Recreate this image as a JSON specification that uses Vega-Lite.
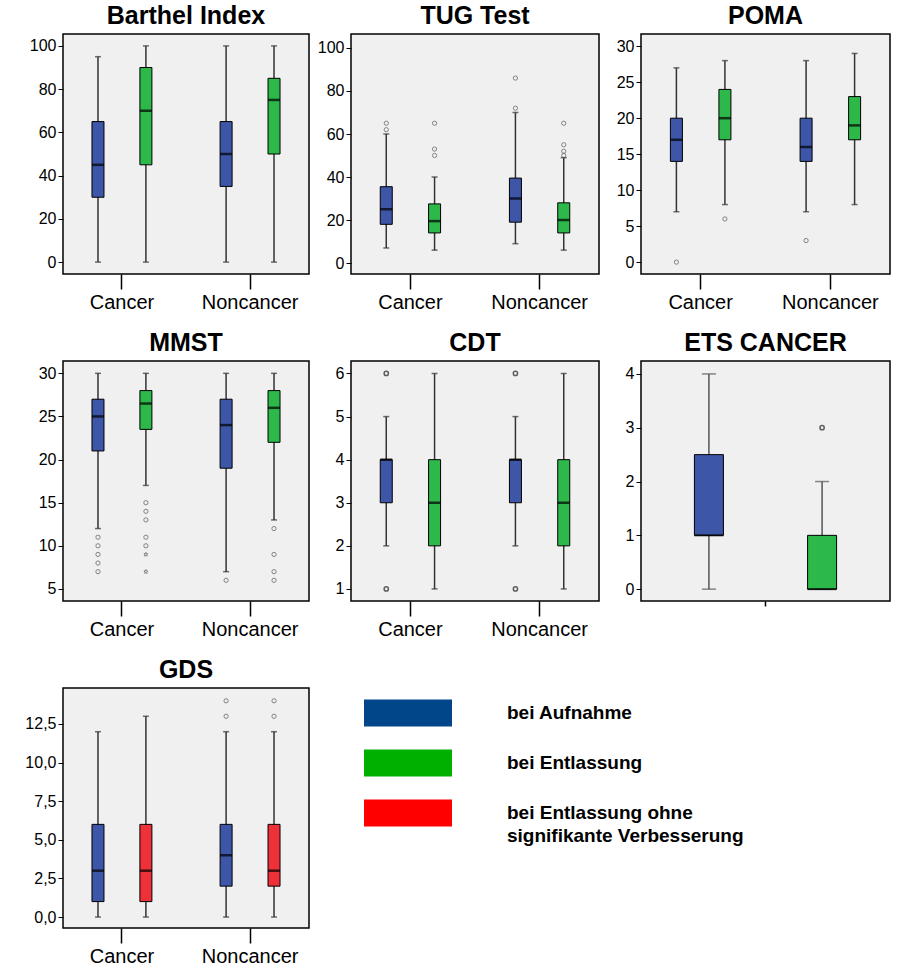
{
"$schema": "https://vega.github.io/schema/vega-lite/v6.json",
"padding": {"left": 24, "top": 3, "right": 4, "bottom": 2},
"background": "#ffffff",
"config": {
  "font": "Liberation Sans",
  "view": {"fill": "#f0f0f0", "stroke": "#000000", "strokeWidth": 1.5},
  "title": {"fontSize": 25, "fontWeight": "bold", "offset": 5, "color": "#000000", "anchor": "middle", "font": "Liberation Sans"},
  "axis": {"labelColor": "#000000", "tickColor": "#000000", "domain": false, "grid": false, "labelFont": "Liberation Sans"},
  "axisX": {"tickSize": 15, "labelFontSize": 20, "labelPadding": 3, "labelAngle": 0, "tickWidth": 1.5},
  "axisY": {"tickSize": 5, "labelFontSize": 16, "labelPadding": 2, "tickWidth": 1}
},
"datasets": {
  "box": [
    {"test":"Barthel","group":"Cancer","phase":"Aufnahme","lo":0,"q1":30,"med":45,"q3":65,"hi":95},
    {"test":"Barthel","group":"Cancer","phase":"Entlassung","lo":0,"q1":45,"med":70,"q3":90,"hi":100},
    {"test":"Barthel","group":"Noncancer","phase":"Aufnahme","lo":0,"q1":35,"med":50,"q3":65,"hi":100},
    {"test":"Barthel","group":"Noncancer","phase":"Entlassung","lo":0,"q1":50,"med":75,"q3":85,"hi":100},
    {"test":"TUG","group":"Cancer","phase":"Aufnahme","lo":7,"q1":18,"med":25,"q3":35.5,"hi":60},
    {"test":"TUG","group":"Cancer","phase":"Entlassung","lo":6,"q1":14,"med":19.5,"q3":27.5,"hi":40},
    {"test":"TUG","group":"Noncancer","phase":"Aufnahme","lo":9,"q1":19,"med":30,"q3":39.5,"hi":70},
    {"test":"TUG","group":"Noncancer","phase":"Entlassung","lo":6,"q1":14,"med":20,"q3":28,"hi":49},
    {"test":"POMA","group":"Cancer","phase":"Aufnahme","lo":7,"q1":14,"med":17,"q3":20,"hi":27},
    {"test":"POMA","group":"Cancer","phase":"Entlassung","lo":8,"q1":17,"med":20,"q3":24,"hi":28},
    {"test":"POMA","group":"Noncancer","phase":"Aufnahme","lo":7,"q1":14,"med":16,"q3":20,"hi":28},
    {"test":"POMA","group":"Noncancer","phase":"Entlassung","lo":8,"q1":17,"med":19,"q3":23,"hi":29},
    {"test":"MMST","group":"Cancer","phase":"Aufnahme","lo":12,"q1":21,"med":25,"q3":27,"hi":30},
    {"test":"MMST","group":"Cancer","phase":"Entlassung","lo":17,"q1":23.5,"med":26.5,"q3":28,"hi":30},
    {"test":"MMST","group":"Noncancer","phase":"Aufnahme","lo":7,"q1":19,"med":24,"q3":27,"hi":30},
    {"test":"MMST","group":"Noncancer","phase":"Entlassung","lo":13,"q1":22,"med":26,"q3":28,"hi":30},
    {"test":"CDT","group":"Cancer","phase":"Aufnahme","lo":2,"q1":3,"med":4,"q3":4,"hi":5},
    {"test":"CDT","group":"Cancer","phase":"Entlassung","lo":1,"q1":2,"med":3,"q3":4,"hi":6},
    {"test":"CDT","group":"Noncancer","phase":"Aufnahme","lo":2,"q1":3,"med":4,"q3":4,"hi":5},
    {"test":"CDT","group":"Noncancer","phase":"Entlassung","lo":1,"q1":2,"med":3,"q3":4,"hi":6},
    {"test":"ETS","group":"Cancer","phase":"Aufnahme","lo":0,"q1":1,"med":1,"q3":2.5,"hi":4},
    {"test":"ETS","group":"Cancer","phase":"Entlassung","lo":0,"q1":0,"med":0,"q3":1,"hi":2},
    {"test":"GDS","group":"Cancer","phase":"Aufnahme","lo":0,"q1":1,"med":3,"q3":6,"hi":12},
    {"test":"GDS","group":"Cancer","phase":"ohne Verbesserung","lo":0,"q1":1,"med":3,"q3":6,"hi":13},
    {"test":"GDS","group":"Noncancer","phase":"Aufnahme","lo":0,"q1":2,"med":4,"q3":6,"hi":12},
    {"test":"GDS","group":"Noncancer","phase":"ohne Verbesserung","lo":0,"q1":2,"med":3,"q3":6,"hi":12}
  ],
  "out": [
    {"test":"TUG","group":"Cancer","phase":"Aufnahme","value":65,"kind":"mild"},
    {"test":"TUG","group":"Cancer","phase":"Aufnahme","value":62,"kind":"mild"},
    {"test":"TUG","group":"Cancer","phase":"Entlassung","value":65,"kind":"mild"},
    {"test":"TUG","group":"Cancer","phase":"Entlassung","value":53,"kind":"mild"},
    {"test":"TUG","group":"Cancer","phase":"Entlassung","value":50,"kind":"mild"},
    {"test":"TUG","group":"Noncancer","phase":"Aufnahme","value":86,"kind":"mild"},
    {"test":"TUG","group":"Noncancer","phase":"Aufnahme","value":72,"kind":"mild"},
    {"test":"TUG","group":"Noncancer","phase":"Entlassung","value":65,"kind":"mild"},
    {"test":"TUG","group":"Noncancer","phase":"Entlassung","value":55,"kind":"mild"},
    {"test":"TUG","group":"Noncancer","phase":"Entlassung","value":52,"kind":"mild"},
    {"test":"TUG","group":"Noncancer","phase":"Entlassung","value":50,"kind":"mild"},
    {"test":"POMA","group":"Cancer","phase":"Aufnahme","value":0,"kind":"mild"},
    {"test":"POMA","group":"Cancer","phase":"Entlassung","value":6,"kind":"mild"},
    {"test":"POMA","group":"Noncancer","phase":"Aufnahme","value":3,"kind":"mild"},
    {"test":"MMST","group":"Cancer","phase":"Aufnahme","value":11,"kind":"mild"},
    {"test":"MMST","group":"Cancer","phase":"Aufnahme","value":10,"kind":"mild"},
    {"test":"MMST","group":"Cancer","phase":"Aufnahme","value":9,"kind":"mild"},
    {"test":"MMST","group":"Cancer","phase":"Aufnahme","value":8,"kind":"mild"},
    {"test":"MMST","group":"Cancer","phase":"Aufnahme","value":7,"kind":"mild"},
    {"test":"MMST","group":"Cancer","phase":"Entlassung","value":15,"kind":"mild"},
    {"test":"MMST","group":"Cancer","phase":"Entlassung","value":14,"kind":"mild"},
    {"test":"MMST","group":"Cancer","phase":"Entlassung","value":13,"kind":"mild"},
    {"test":"MMST","group":"Cancer","phase":"Entlassung","value":11,"kind":"mild"},
    {"test":"MMST","group":"Cancer","phase":"Entlassung","value":10,"kind":"mild"},
    {"test":"MMST","group":"Cancer","phase":"Entlassung","value":9,"kind":"extreme"},
    {"test":"MMST","group":"Cancer","phase":"Entlassung","value":7,"kind":"extreme"},
    {"test":"MMST","group":"Noncancer","phase":"Aufnahme","value":6,"kind":"mild"},
    {"test":"MMST","group":"Noncancer","phase":"Entlassung","value":12,"kind":"mild"},
    {"test":"MMST","group":"Noncancer","phase":"Entlassung","value":9,"kind":"mild"},
    {"test":"MMST","group":"Noncancer","phase":"Entlassung","value":7,"kind":"mild"},
    {"test":"MMST","group":"Noncancer","phase":"Entlassung","value":6,"kind":"mild"},
    {"test":"CDT","group":"Cancer","phase":"Aufnahme","value":6,"kind":"mild"},
    {"test":"CDT","group":"Cancer","phase":"Aufnahme","value":1,"kind":"mild"},
    {"test":"CDT","group":"Noncancer","phase":"Aufnahme","value":6,"kind":"mild"},
    {"test":"CDT","group":"Noncancer","phase":"Aufnahme","value":1,"kind":"mild"},
    {"test":"ETS","group":"Cancer","phase":"Entlassung","value":3,"kind":"mild"},
    {"test":"GDS","group":"Noncancer","phase":"Aufnahme","value":14,"kind":"mild"},
    {"test":"GDS","group":"Noncancer","phase":"Aufnahme","value":13,"kind":"mild"},
    {"test":"GDS","group":"Noncancer","phase":"ohne Verbesserung","value":14,"kind":"mild"},
    {"test":"GDS","group":"Noncancer","phase":"ohne Verbesserung","value":13,"kind":"mild"}
  ],
  "legend": [
    {"item":"a","phase":"Aufnahme","label":"bei Aufnahme"},
    {"item":"b","phase":"Entlassung","label":"bei Entlassung"},
    {"item":"c","phase":"ohne Verbesserung","label":"bei Entlassung ohne\nsignifikante Verbesserung"}
  ]
},
"columns": 3,
"bounds": "flush",
"spacing": {"row": 87, "column": 42},
"resolve": {"scale": {"x": "independent", "y": "independent", "xOffset": "independent"}},
"concat": [
{
 "title": "Barthel Index", "width": 246, "height": 240,
 "encoding": {
   "x": {"field":"group","type":"nominal","title":null,"scale":{"domain":["Cancer","Noncancer"],"paddingInner":0.08,"paddingOuter":0}},
   "xOffset": {"field":"phase","type":"nominal","scale":{"domain":["Aufnahme","Entlassung"],"paddingInner":0,"paddingOuter":0.23}}
 },
 "layer": [
  {"data":{"name":"box"},"transform":[{"filter":"datum.test === 'Barthel'"}],"mark":{"type":"rule","color":"#333333","strokeWidth":1.5},
   "encoding":{"y":{"field":"lo","type":"quantitative","title":null,"scale":{"domain":[-5.5,105.5],"nice":false,"zero":false},"axis":{"values":[0,20,40,60,80,100]}},"y2":{"field":"hi"}}},
  {"data":{"name":"box"},"transform":[{"filter":"datum.test === 'Barthel'"}],"mark":{"type":"tick","size":6,"thickness":1.5,"color":"#333333"},"encoding":{"y":{"field":"lo","type":"quantitative","title":null,"axis":{"values":[0,20,40,60,80,100]}}}},
  {"data":{"name":"box"},"transform":[{"filter":"datum.test === 'Barthel'"}],"mark":{"type":"tick","size":6,"thickness":1.5,"color":"#333333"},"encoding":{"y":{"field":"hi","type":"quantitative","title":null,"axis":{"values":[0,20,40,60,80,100]}}}},
  {"data":{"name":"box"},"transform":[{"filter":"datum.test === 'Barthel'"}],"mark":{"type":"bar","width":12,"stroke":"#000000","strokeWidth":1},
   "encoding":{"y":{"field":"q1","type":"quantitative","title":null,"axis":{"values":[0,20,40,60,80,100]}},"y2":{"field":"q3"},"color":{"field":"phase","type":"nominal","scale":{"domain":["Aufnahme","Entlassung","ohne Verbesserung"],"range":["#3e56a8","#2db84a","#ee3139"]},"legend":null}}},
  {"data":{"name":"box"},"transform":[{"filter":"datum.test === 'Barthel'"}],"mark":{"type":"tick","size":12,"thickness":2.5,"color":"#000000"},"encoding":{"y":{"field":"med","type":"quantitative","title":null,"axis":{"values":[0,20,40,60,80,100]}}}}
 ]
},
{
 "title": "TUG Test", "width": 248, "height": 240,
 "encoding": {
   "x": {"field":"group","type":"nominal","title":null,"scale":{"domain":["Cancer","Noncancer"],"paddingInner":0.08,"paddingOuter":0}},
   "xOffset": {"field":"phase","type":"nominal","scale":{"domain":["Aufnahme","Entlassung"],"paddingInner":0,"paddingOuter":0.23}}
 },
 "layer": [
  {"data":{"name":"box"},"transform":[{"filter":"datum.test === 'TUG'"}],"mark":{"type":"rule","color":"#333333","strokeWidth":1.5},
   "encoding":{"y":{"field":"lo","type":"quantitative","title":null,"scale":{"domain":[-5.1,106.5],"nice":false,"zero":false},"axis":{"values":[0,20,40,60,80,100]}},"y2":{"field":"hi"}}},
  {"data":{"name":"box"},"transform":[{"filter":"datum.test === 'TUG'"}],"mark":{"type":"tick","size":6,"thickness":1.5,"color":"#333333"},"encoding":{"y":{"field":"lo","type":"quantitative","title":null,"axis":{"values":[0,20,40,60,80,100]}}}},
  {"data":{"name":"box"},"transform":[{"filter":"datum.test === 'TUG'"}],"mark":{"type":"tick","size":6,"thickness":1.5,"color":"#333333"},"encoding":{"y":{"field":"hi","type":"quantitative","title":null,"axis":{"values":[0,20,40,60,80,100]}}}},
  {"data":{"name":"box"},"transform":[{"filter":"datum.test === 'TUG'"}],"mark":{"type":"bar","width":12,"stroke":"#000000","strokeWidth":1},
   "encoding":{"y":{"field":"q1","type":"quantitative","title":null,"axis":{"values":[0,20,40,60,80,100]}},"y2":{"field":"q3"},"color":{"field":"phase","type":"nominal","scale":{"domain":["Aufnahme","Entlassung","ohne Verbesserung"],"range":["#3e56a8","#2db84a","#ee3139"]},"legend":null}}},
  {"data":{"name":"box"},"transform":[{"filter":"datum.test === 'TUG'"}],"mark":{"type":"tick","size":12,"thickness":2.5,"color":"#000000"},"encoding":{"y":{"field":"med","type":"quantitative","title":null,"axis":{"values":[0,20,40,60,80,100]}}}},
  {"data":{"name":"out"},"transform":[{"filter":"datum.test === 'TUG'"}],"mark":{"type":"point","filled":false,"size":18,"strokeWidth":1,"color":"#555555"},"encoding":{"y":{"field":"value","type":"quantitative","title":null,"axis":{"values":[0,20,40,60,80,100]}}}}
 ]
},
{
 "title": "POMA", "width": 249, "height": 240,
 "encoding": {
   "x": {"field":"group","type":"nominal","title":null,"scale":{"domain":["Cancer","Noncancer"],"paddingInner":0.08,"paddingOuter":0}},
   "xOffset": {"field":"phase","type":"nominal","scale":{"domain":["Aufnahme","Entlassung"],"paddingInner":0,"paddingOuter":0.23}}
 },
 "layer": [
  {"data":{"name":"box"},"transform":[{"filter":"datum.test === 'POMA'"}],"mark":{"type":"rule","color":"#333333","strokeWidth":1.5},
   "encoding":{"y":{"field":"lo","type":"quantitative","title":null,"scale":{"domain":[-1.65,31.7],"nice":false,"zero":false},"axis":{"values":[0,5,10,15,20,25,30]}},"y2":{"field":"hi"}}},
  {"data":{"name":"box"},"transform":[{"filter":"datum.test === 'POMA'"}],"mark":{"type":"tick","size":6,"thickness":1.5,"color":"#333333"},"encoding":{"y":{"field":"lo","type":"quantitative","title":null,"axis":{"values":[0,5,10,15,20,25,30]}}}},
  {"data":{"name":"box"},"transform":[{"filter":"datum.test === 'POMA'"}],"mark":{"type":"tick","size":6,"thickness":1.5,"color":"#333333"},"encoding":{"y":{"field":"hi","type":"quantitative","title":null,"axis":{"values":[0,5,10,15,20,25,30]}}}},
  {"data":{"name":"box"},"transform":[{"filter":"datum.test === 'POMA'"}],"mark":{"type":"bar","width":12,"stroke":"#000000","strokeWidth":1},
   "encoding":{"y":{"field":"q1","type":"quantitative","title":null,"axis":{"values":[0,5,10,15,20,25,30]}},"y2":{"field":"q3"},"color":{"field":"phase","type":"nominal","scale":{"domain":["Aufnahme","Entlassung","ohne Verbesserung"],"range":["#3e56a8","#2db84a","#ee3139"]},"legend":null}}},
  {"data":{"name":"box"},"transform":[{"filter":"datum.test === 'POMA'"}],"mark":{"type":"tick","size":12,"thickness":2.5,"color":"#000000"},"encoding":{"y":{"field":"med","type":"quantitative","title":null,"axis":{"values":[0,5,10,15,20,25,30]}}}},
  {"data":{"name":"out"},"transform":[{"filter":"datum.test === 'POMA'"}],"mark":{"type":"point","filled":false,"size":18,"strokeWidth":1,"color":"#555555"},"encoding":{"y":{"field":"value","type":"quantitative","title":null,"axis":{"values":[0,5,10,15,20,25,30]}}}}
 ]
},
{
 "title": "MMST", "width": 246, "height": 240,
 "encoding": {
   "x": {"field":"group","type":"nominal","title":null,"scale":{"domain":["Cancer","Noncancer"],"paddingInner":0.08,"paddingOuter":0}},
   "xOffset": {"field":"phase","type":"nominal","scale":{"domain":["Aufnahme","Entlassung"],"paddingInner":0,"paddingOuter":0.23}}
 },
 "layer": [
  {"data":{"name":"box"},"transform":[{"filter":"datum.test === 'MMST'"}],"mark":{"type":"rule","color":"#333333","strokeWidth":1.5},
   "encoding":{"y":{"field":"lo","type":"quantitative","title":null,"scale":{"domain":[3.6,31.43],"nice":false,"zero":false},"axis":{"values":[5,10,15,20,25,30]}},"y2":{"field":"hi"}}},
  {"data":{"name":"box"},"transform":[{"filter":"datum.test === 'MMST'"}],"mark":{"type":"tick","size":6,"thickness":1.5,"color":"#333333"},"encoding":{"y":{"field":"lo","type":"quantitative","title":null,"axis":{"values":[5,10,15,20,25,30]}}}},
  {"data":{"name":"box"},"transform":[{"filter":"datum.test === 'MMST'"}],"mark":{"type":"tick","size":6,"thickness":1.5,"color":"#333333"},"encoding":{"y":{"field":"hi","type":"quantitative","title":null,"axis":{"values":[5,10,15,20,25,30]}}}},
  {"data":{"name":"box"},"transform":[{"filter":"datum.test === 'MMST'"}],"mark":{"type":"bar","width":12,"stroke":"#000000","strokeWidth":1},
   "encoding":{"y":{"field":"q1","type":"quantitative","title":null,"axis":{"values":[5,10,15,20,25,30]}},"y2":{"field":"q3"},"color":{"field":"phase","type":"nominal","scale":{"domain":["Aufnahme","Entlassung","ohne Verbesserung"],"range":["#3e56a8","#2db84a","#ee3139"]},"legend":null}}},
  {"data":{"name":"box"},"transform":[{"filter":"datum.test === 'MMST'"}],"mark":{"type":"tick","size":12,"thickness":2.5,"color":"#000000"},"encoding":{"y":{"field":"med","type":"quantitative","title":null,"axis":{"values":[5,10,15,20,25,30]}}}},
  {"data":{"name":"out"},"transform":[{"filter":"datum.test === 'MMST'"}],"mark":{"type":"point","filled":false,"size":18,"strokeWidth":1,"color":"#555555"},
   "encoding":{"y":{"field":"value","type":"quantitative","title":null,"axis":{"values":[5,10,15,20,25,30]}},"shape":{"field":"kind","type":"nominal","legend":null,"scale":{"domain":["mild","extreme"],"range":["circle","M0,-1L0.25,-0.35L0.95,-0.31L0.4,0.13L0.59,0.81L0,0.42L-0.59,0.81L-0.4,0.13L-0.95,-0.31L-0.25,-0.35Z"]}}}}
 ]
},
{
 "title": "CDT", "width": 248, "height": 240,
 "encoding": {
   "x": {"field":"group","type":"nominal","title":null,"scale":{"domain":["Cancer","Noncancer"],"paddingInner":0.08,"paddingOuter":0}},
   "xOffset": {"field":"phase","type":"nominal","scale":{"domain":["Aufnahme","Entlassung"],"paddingInner":0,"paddingOuter":0.23}}
 },
 "layer": [
  {"data":{"name":"box"},"transform":[{"filter":"datum.test === 'CDT'"}],"mark":{"type":"rule","color":"#333333","strokeWidth":1.5},
   "encoding":{"y":{"field":"lo","type":"quantitative","title":null,"scale":{"domain":[0.72,6.29],"nice":false,"zero":false},"axis":{"values":[1,2,3,4,5,6]}},"y2":{"field":"hi"}}},
  {"data":{"name":"box"},"transform":[{"filter":"datum.test === 'CDT'"}],"mark":{"type":"tick","size":6,"thickness":1.5,"color":"#333333"},"encoding":{"y":{"field":"lo","type":"quantitative","title":null,"axis":{"values":[1,2,3,4,5,6]}}}},
  {"data":{"name":"box"},"transform":[{"filter":"datum.test === 'CDT'"}],"mark":{"type":"tick","size":6,"thickness":1.5,"color":"#333333"},"encoding":{"y":{"field":"hi","type":"quantitative","title":null,"axis":{"values":[1,2,3,4,5,6]}}}},
  {"data":{"name":"box"},"transform":[{"filter":"datum.test === 'CDT'"}],"mark":{"type":"bar","width":12,"stroke":"#000000","strokeWidth":1},
   "encoding":{"y":{"field":"q1","type":"quantitative","title":null,"axis":{"values":[1,2,3,4,5,6]}},"y2":{"field":"q3"},"color":{"field":"phase","type":"nominal","scale":{"domain":["Aufnahme","Entlassung","ohne Verbesserung"],"range":["#3e56a8","#2db84a","#ee3139"]},"legend":null}}},
  {"data":{"name":"box"},"transform":[{"filter":"datum.test === 'CDT'"}],"mark":{"type":"tick","size":12,"thickness":2.5,"color":"#000000"},"encoding":{"y":{"field":"med","type":"quantitative","title":null,"axis":{"values":[1,2,3,4,5,6]}}}},
  {"data":{"name":"out"},"transform":[{"filter":"datum.test === 'CDT'"}],"mark":{"type":"point","filled":false,"size":18,"strokeWidth":1.5,"color":"#222222"},"encoding":{"y":{"field":"value","type":"quantitative","title":null,"axis":{"values":[1,2,3,4,5,6]}}}}
 ]
},
{
 "title": "ETS CANCER", "width": 249, "height": 240,
 "encoding": {
   "x": {"field":"group","type":"nominal","title":null,"scale":{"domain":["Cancer"],"paddingInner":0,"paddingOuter":0},"axis":{"labels":false,"tickSize":5}},
   "xOffset": {"field":"phase","type":"nominal","scale":{"domain":["Aufnahme","Entlassung"],"paddingInner":0,"paddingOuter":0.1}}
 },
 "layer": [
  {"data":{"name":"box"},"transform":[{"filter":"datum.test === 'ETS'"}],"mark":{"type":"rule","color":"#555555","strokeWidth":1.5},
   "encoding":{"y":{"field":"lo","type":"quantitative","title":null,"scale":{"domain":[-0.22,4.24],"nice":false,"zero":false},"axis":{"values":[0,1,2,3,4]}},"y2":{"field":"hi"}}},
  {"data":{"name":"box"},"transform":[{"filter":"datum.test === 'ETS'"}],"mark":{"type":"tick","size":14,"thickness":1.5,"color":"#555555"},"encoding":{"y":{"field":"lo","type":"quantitative","title":null,"axis":{"values":[0,1,2,3,4]}}}},
  {"data":{"name":"box"},"transform":[{"filter":"datum.test === 'ETS'"}],"mark":{"type":"tick","size":14,"thickness":1.5,"color":"#555555"},"encoding":{"y":{"field":"hi","type":"quantitative","title":null,"axis":{"values":[0,1,2,3,4]}}}},
  {"data":{"name":"box"},"transform":[{"filter":"datum.test === 'ETS'"}],"mark":{"type":"bar","width":29,"stroke":"#000000","strokeWidth":1},
   "encoding":{"y":{"field":"q1","type":"quantitative","title":null,"axis":{"values":[0,1,2,3,4]}},"y2":{"field":"q3"},"color":{"field":"phase","type":"nominal","scale":{"domain":["Aufnahme","Entlassung","ohne Verbesserung"],"range":["#3e56a8","#2db84a","#ee3139"]},"legend":null}}},
  {"data":{"name":"box"},"transform":[{"filter":"datum.test === 'ETS'"}],"mark":{"type":"tick","size":29,"thickness":2,"color":"#000000"},"encoding":{"y":{"field":"med","type":"quantitative","title":null,"axis":{"values":[0,1,2,3,4]}}}},
  {"data":{"name":"out"},"transform":[{"filter":"datum.test === 'ETS'"}],"mark":{"type":"point","filled":false,"size":18,"strokeWidth":1.5,"color":"#222222"},"encoding":{"y":{"field":"value","type":"quantitative","title":null,"axis":{"values":[0,1,2,3,4]}}}}
 ]
},
{
 "title": "GDS", "width": 246, "height": 240,
 "encoding": {
   "x": {"field":"group","type":"nominal","title":null,"scale":{"domain":["Cancer","Noncancer"],"paddingInner":0.08,"paddingOuter":0}},
   "xOffset": {"field":"phase","type":"nominal","scale":{"domain":["Aufnahme","ohne Verbesserung"],"paddingInner":0,"paddingOuter":0.23}}
 },
 "layer": [
  {"data":{"name":"box"},"transform":[{"filter":"datum.test === 'GDS'"}],"mark":{"type":"rule","color":"#333333","strokeWidth":1.5},
   "encoding":{"y":{"field":"lo","type":"quantitative","title":null,"scale":{"domain":[-0.71,14.83],"nice":false,"zero":false},"axis":{"values":[0,2.5,5,7.5,10,12.5],"labelExpr":"replace(format(datum.value, '.1f'), '.', ',')"}},"y2":{"field":"hi"}}},
  {"data":{"name":"box"},"transform":[{"filter":"datum.test === 'GDS'"}],"mark":{"type":"tick","size":6,"thickness":1.5,"color":"#333333"},"encoding":{"y":{"field":"lo","type":"quantitative","title":null,"axis":{"values":[0,2.5,5,7.5,10,12.5],"labelExpr":"replace(format(datum.value, '.1f'), '.', ',')"}}}},
  {"data":{"name":"box"},"transform":[{"filter":"datum.test === 'GDS'"}],"mark":{"type":"tick","size":6,"thickness":1.5,"color":"#333333"},"encoding":{"y":{"field":"hi","type":"quantitative","title":null,"axis":{"values":[0,2.5,5,7.5,10,12.5],"labelExpr":"replace(format(datum.value, '.1f'), '.', ',')"}}}},
  {"data":{"name":"box"},"transform":[{"filter":"datum.test === 'GDS'"}],"mark":{"type":"bar","width":12,"stroke":"#000000","strokeWidth":1},
   "encoding":{"y":{"field":"q1","type":"quantitative","title":null,"axis":{"values":[0,2.5,5,7.5,10,12.5],"labelExpr":"replace(format(datum.value, '.1f'), '.', ',')"}},"y2":{"field":"q3"},"color":{"field":"phase","type":"nominal","scale":{"domain":["Aufnahme","Entlassung","ohne Verbesserung"],"range":["#3e56a8","#2db84a","#ee3139"]},"legend":null}}},
  {"data":{"name":"box"},"transform":[{"filter":"datum.test === 'GDS'"}],"mark":{"type":"tick","size":12,"thickness":2.5,"color":"#000000"},"encoding":{"y":{"field":"med","type":"quantitative","title":null,"axis":{"values":[0,2.5,5,7.5,10,12.5],"labelExpr":"replace(format(datum.value, '.1f'), '.', ',')"}}}},
  {"data":{"name":"out"},"transform":[{"filter":"datum.test === 'GDS'"}],"mark":{"type":"point","filled":false,"size":18,"strokeWidth":1,"color":"#555555"},"encoding":{"y":{"field":"value","type":"quantitative","title":null,"axis":{"values":[0,2.5,5,7.5,10,12.5],"labelExpr":"replace(format(datum.value, '.1f'), '.', ',')"}}}}
 ]
},
{
 "width": 248, "height": 150,
 "view": {"fill": null, "stroke": null},
 "data": {"name": "legend"},
 "encoding": {
   "y": {"field":"item","type":"nominal","title":null,"axis":null,"sort":null,"scale":{"paddingInner":0,"paddingOuter":0}}
 },
 "layer": [
  {"mark":{"type":"bar","height":27},
   "encoding":{
     "x":{"datum":13,"type":"quantitative","scale":{"domain":[0,248],"nice":false,"zero":false},"axis":null},
     "x2":{"datum":101},
     "fill":{"field":"phase","type":"nominal","legend":null,"scale":{"domain":["Aufnahme","Entlassung","ohne Verbesserung"],"range":["#02468a","#00b000","#ff0000"]}}
   }},
  {"mark":{"type":"text","align":"left","baseline":"middle","fontSize":19,"fontWeight":"bold","lineBreak":"\n","lineHeight":23,"color":"#000000","font":"Liberation Sans"},
   "encoding":{
     "x":{"datum":156,"type":"quantitative"},
     "text":{"field":"label","type":"nominal"}
   }}
 ]
}
]
}
